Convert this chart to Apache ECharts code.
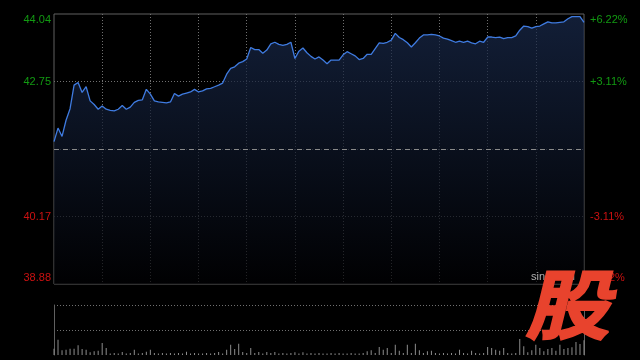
<!DOCTYPE html>
<html><head><meta charset="utf-8">
<script src="https://cdn.jsdelivr.net/npm/echarts@6/dist/echarts.min.js"></script>
<style>html,body{margin:0;padding:0;background:#000;}#c{width:640px;height:360px;}</style>
</head><body><div id="c"></div>
<script>
// ---- data ----
const prevClose = 41.46;
const priceMin = 38.88;
const priceTicks = ['38.88', '40.17', '41.46', '42.75', '44.04'];
const pctTicks = ['-6.22%', '-3.11%', '0.00%', '+3.11%', '+6.22%'];
const prices = [
  41.60, 41.86, 41.70, 42.01, 42.23, 42.68, 42.73, 42.54, 42.65, 42.38,
  42.31, 42.22, 42.28, 42.22, 42.20, 42.19, 42.22, 42.29, 42.22, 42.26,
  42.35, 42.39, 42.40, 42.60, 42.51, 42.38, 42.36, 42.35, 42.34, 42.36,
  42.52, 42.47, 42.51, 42.53, 42.55, 42.60, 42.55, 42.57, 42.61, 42.62,
  42.65, 42.68, 42.72, 42.89, 43.00, 43.03, 43.10, 43.13, 43.18, 43.40,
  43.36, 43.36, 43.29, 43.35, 43.47, 43.50, 43.46, 43.44, 43.46, 43.50,
  43.19, 43.33, 43.39, 43.30, 43.23, 43.18, 43.22, 43.16, 43.09, 43.16,
  43.16, 43.16, 43.26, 43.32, 43.28, 43.24, 43.17, 43.19, 43.27, 43.27,
  43.38, 43.49, 43.48, 43.50, 43.54, 43.67, 43.59, 43.55, 43.49, 43.41,
  43.49, 43.58, 43.64, 43.64, 43.65, 43.64, 43.62, 43.58, 43.56, 43.53,
  43.50, 43.52, 43.50, 43.52, 43.49, 43.47, 43.52, 43.50, 43.60, 43.60,
  43.59, 43.60, 43.57, 43.59, 43.59, 43.62, 43.73, 43.81, 43.80, 43.77,
  43.80, 43.81, 43.85, 43.89, 43.87, 43.87, 43.88, 43.89, 43.95, 43.99,
  43.99, 43.99, 43.88
];
const volumes = [
  6.3, 15.3, 4.7, 5.3, 6.3, 6.3, 9.7, 6, 5.3, 2.7,
  3.7, 4.3, 12, 7, 1.5, 2, 1.5, 3, 1.5, 2,
  5.3, 1.5, 2, 3.3, 5.3, 2, 1.5, 2, 1.5, 2,
  1.5, 2, 1.5, 3.3, 1.5, 2, 1.5, 1.5, 2, 1.5,
  2, 3, 1.5, 5.3, 10.3, 6, 11.3, 3, 2, 7,
  2, 3, 1.5, 3, 2, 3, 1.5, 2, 1.5, 2,
  2.7, 1.5, 2.7, 1.5, 2, 1.5, 2, 1.5, 1.5, 2,
  1.5, 2, 1.5, 1.5, 2, 1.5, 1.5, 2, 3.7, 4.7,
  2, 8, 5.3, 7, 2, 10.3, 4.3, 2, 10.3, 2,
  11.3, 4.7, 2, 3.7, 4.3, 2, 1.5, 2, 1.5, 2,
  1.5, 5.3, 2, 1.5, 4.3, 2, 1.5, 2, 8, 7,
  5.3, 4.3, 7, 2, 1.5, 2, 16, 8.7, 2.7, 4.7,
  10.3, 7, 3.7, 6, 7, 4.3, 10.3, 6, 7, 7.7,
  13, 11, 14.7
];
// time categories: one sample every 2.5 minutes (HK session, 330 minutes)
const times = prices.map((_, i) => {
  let m = i * 2.5;
  m = m <= 150 ? 570 + m : 630 + m;
  const h = Math.floor(m / 60), mm = Math.floor(m % 60), s = (m % 1) ? '30' : '00';
  return String(h).padStart(2, '0') + ':' + String(mm).padStart(2, '0') + ':' + s;
});

// ---- chart ----
const STEP = 129; // cents between ticks
const toCents = p => Math.round((p - priceMin) * 100);
const GREEN = '#129a12', RED = '#cc1111';
const FF = '"Liberation Sans", Arial';
const labelRich = {
  g: { color: GREEN, fontSize: 11, fontFamily: FF },
  r: { color: RED, fontSize: 11, fontFamily: FF },
  gt: { color: GREEN, fontSize: 11, fontFamily: FF, padding: [12, 0, 0, 0] },
  rb: { color: RED, fontSize: 11, fontFamily: FF, padding: [0, 0, 12, 0] }
};
function fmt(list) {
  return v => {
    const idx = Math.round(v / STEP);
    if (idx === 2) return '';
    const t = list[idx];
    if (idx === 4) return '{gt|' + t + '}';
    if (idx === 0) return '{rb|' + t + '}';
    return (idx > 2 ? '{g|' : '{r|') + t + '}';
  };
}
const dotted = { color: '#707070', type: [1, 2], width: 1 };

// logo transform: italic skew + squash, decomposed as rotation*scale*rotation
function svd2(a, b, c, d) {
  const E = (a + d) / 2, F = (a - d) / 2, G = (c + b) / 2, H = (c - b) / 2;
  const Q = Math.hypot(E, H), R = Math.hypot(F, G);
  const a1 = Math.atan2(G, F), a2 = Math.atan2(H, E);
  return { sx: Q + R, sy: Q - R, theta: (a2 - a1) / 2, phi: (a2 + a1) / 2 };
}
const L = svd2(0.92, -0.2, 0, 0.82);

const chart = echarts.init(document.getElementById('c'), null, { renderer: 'canvas' });
chart.setOption({
  animation: false,
  backgroundColor: '#000',
  grid: [
    { left: 54, right: 56, top: 14, height: 270, show: true, borderColor: '#606060', borderWidth: 1, backgroundColor: 'transparent' },
    { left: 54, right: 56, top: 305, height: 50 }
  ],
  xAxis: [
    { type: 'category', gridIndex: 0, data: times, boundaryGap: false,
      axisLine: { show: false }, axisTick: { show: false }, axisLabel: { show: false },
      splitLine: { show: true, interval: 11, showMinLine: false, showMaxLine: false, lineStyle: dotted } },
    { type: 'category', gridIndex: 1, data: times, boundaryGap: false,
      axisLine: { show: false }, axisTick: { show: false }, axisLabel: { show: false },
      splitLine: { show: false } }
  ],
  yAxis: [
    { type: 'value', gridIndex: 0, min: 0, max: 4 * STEP, interval: STEP, position: 'left',
      axisLine: { show: false }, axisTick: { show: false },
      axisLabel: { margin: 3, formatter: fmt(priceTicks), rich: labelRich },
      splitLine: { show: true, showMinLine: false, showMaxLine: false, lineStyle: dotted } },
    { type: 'value', gridIndex: 0, min: 0, max: 4 * STEP, interval: STEP, position: 'right',
      axisLine: { show: false }, axisTick: { show: false },
      axisLabel: { margin: 6, formatter: fmt(pctTicks), rich: labelRich },
      splitLine: { show: false } },
    { type: 'value', gridIndex: 1, min: 0, max: 50, interval: 25, position: 'left',
      axisLine: { show: true, lineStyle: { color: '#606060' } }, axisTick: { show: false }, axisLabel: { show: false },
      splitLine: { show: true, showMinLine: false, lineStyle: dotted } },
    { type: 'value', gridIndex: 1, min: 0, max: 50, interval: 25, position: 'right',
      axisLine: { show: true, lineStyle: { color: '#606060' } }, axisTick: { show: false }, axisLabel: { show: false },
      splitLine: { show: false } }
  ],
  series: [
    { type: 'line', xAxisIndex: 0, yAxisIndex: 0, data: prices.map(toCents),
      symbol: 'none', smooth: false,
      lineStyle: { color: '#3f7be0', width: 1.3 },
      areaStyle: { color: new echarts.graphic.LinearGradient(0, 0, 0, 1, [
        { offset: 0, color: '#1a2b4e' }, { offset: 1, color: '#010103' }]) },
      markLine: { silent: true, symbol: 'none', label: { show: false },
        lineStyle: { color: '#8a8a8a', type: [5, 4], width: 1 },
        data: [{ yAxis: toCents(prevClose) }] } },
    { type: 'bar', xAxisIndex: 1, yAxisIndex: 2, data: volumes, barWidth: 1,
      itemStyle: { color: '#8c8c8c' } }
  ],
  graphic: [
    { type: 'text', left: 531, top: 271, z: 10,
      style: { text: 'sina.com', fill: '#b0b0b0', font: '11px ' + FF } },
    { type: 'group', x: 523, y: 342, z: 20, rotation: -L.phi, scaleX: L.sx, scaleY: L.sy,
      children: [
        { type: 'text', x: 0, y: 0, rotation: -L.theta, z: 20,
          style: { text: '股', fill: '#e8432d', stroke: '#e8432d', lineWidth: 2.5,
            font: 'bold 92px "Noto Sans CJK SC"', verticalAlign: 'bottom', align: 'left' } }
      ] }
  ]
});
</script></body></html>
